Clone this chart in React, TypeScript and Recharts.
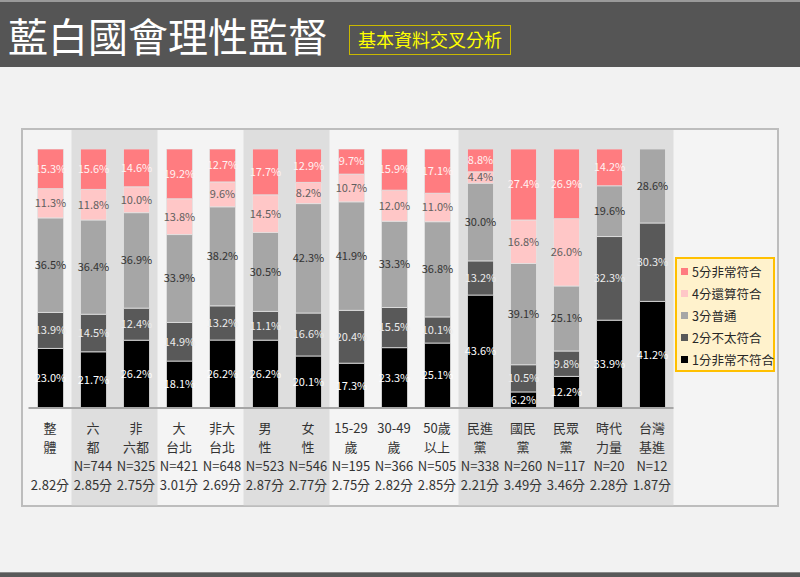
import {
    BarChart,
    Bar,
    XAxis,
    YAxis,
    Legend,
    LabelList,
    ReferenceArea,
} from "recharts";

const categories = [
    "整體", "六都", "非六都", "大台北", "非大台北", "男性", "女性",
    "15-29歲", "30-49歲", "50歲以上", "民進黨", "國民黨", "民眾黨", "時代力量", "台灣基進",
];
const labelTop = ["整", "六", "非", "大", "非大", "男", "女", "15-29", "30-49", "50歲", "民進", "國民", "民眾", "時代", "台灣"];
const labelBottom = ["體", "都", "六都", "台北", "台北", "性", "性", "歲", "歲", "以上", "黨", "黨", "黨", "力量", "基進"];
const sampleSizes = ["", "N=744", "N=325", "N=421", "N=648", "N=523", "N=546", "N=195", "N=366", "N=505", "N=338", "N=260", "N=117", "N=20", "N=12"];
const meanScores = ["2.82分", "2.85分", "2.75分", "3.01分", "2.69分", "2.87分", "2.77分", "2.75分", "2.82分", "2.85分", "2.21分", "3.49分", "3.46分", "2.28分", "1.87分"];

// share of each answer, % (1 = 非常不符合 ... 5 = 非常符合)
const rate1 = [23.0, 21.7, 26.2, 18.1, 26.2, 26.2, 20.1, 17.3, 23.3, 25.1, 43.6, 6.2, 12.2, 33.9, 41.2];
const rate2 = [13.9, 14.5, 12.4, 14.9, 13.2, 11.1, 16.6, 20.4, 15.5, 10.1, 13.2, 10.5, 9.8, 32.3, 30.3];
const rate3 = [36.5, 36.4, 36.9, 33.9, 38.2, 30.5, 42.3, 41.9, 33.3, 36.8, 30.0, 39.1, 25.1, 19.6, 28.6];
const rate4 = [11.3, 11.8, 10.0, 13.8, 9.6, 14.5, 8.2, 10.7, 12.0, 11.0, 4.4, 16.8, 26.0, 0, 0];
const rate5 = [15.3, 15.6, 14.6, 19.2, 12.7, 17.7, 12.9, 9.7, 15.9, 17.1, 8.8, 27.4, 26.9, 14.2, 0];

const data = categories.map((name, i) => ({
    name,
    s1: rate1[i],
    s2: rate2[i],
    s3: rate3[i],
    s4: rate4[i],
    s5: rate5[i],
}));

// shaded column groups
const bands = [
    ["六都", "非六都"],
    ["男性", "女性"],
    ["民進黨", "台灣基進"],
];

const FONT = "'Noto Sans CJK TC', 'Noto Sans', sans-serif";

const series = [
    { key: "s1", name: "1分非常不符合", fill: "#000000", text: "#ffffff" },
    { key: "s2", name: "2分不太符合", fill: "#595959", text: "#ececec" },
    { key: "s3", name: "3分普通", fill: "#a6a6a6", text: "#333333" },
    { key: "s4", name: "4分還算符合", fill: "#ffc7c7", text: "#5f5f5f" },
    { key: "s5", name: "5分非常符合", fill: "#ff7c80", text: "#fff3f3" },
];

const fmt = (v: any) => (v ? Number(v).toFixed(1) + "%" : "");

function CategoryTick(props: any) {
    const { x, y, payload } = props;
    const i = payload.index;
    const rows = [labelTop[i], labelBottom[i], sampleSizes[i], meanScores[i]];
    const offs = [11, 30, 49, 68];
    return (
        <g>
            {rows.map((t, r) => (
                <text
                    key={r}
                    x={x}
                    y={y + offs[r]}
                    textAnchor="middle"
                    dominantBaseline="central"
                    fontSize={13}
                    fontFamily={FONT}
                    fill="#333333"
                >
                    {t}
                </text>
            ))}
        </g>
    );
}

function LegendBox(props: any) {
    const items = [...(props.payload || [])].reverse();
    return (
        <div
            style={{
                width: 100,
                height: 115,
                boxSizing: "border-box",
                border: "2px solid #ffc000",
                background: "#fff2cc",
                paddingTop: 1,
            }}
        >
            {items.map((it: any) => (
                <div
                    key={it.value}
                    style={{
                        height: 22.2,
                        display: "flex",
                        alignItems: "center",
                        fontSize: 12.5,
                        color: "#262626",
                        fontFamily: FONT,
                        whiteSpace: "nowrap",
                    }}
                >
                    <span
                        style={{
                            width: 7,
                            height: 7,
                            flex: "none",
                            background: it.color,
                            margin: "0 4px 0 4px",
                        }}
                    />
                    {it.value}
                </div>
            ))}
        </div>
    );
}

export default function App() {
    return (
        <div
            style={{
                position: "absolute",
                left: 0,
                top: 0,
                width: 800,
                height: 577,
                background: "#f2f2f2",
                overflow: "hidden",
                fontFamily: FONT,
            }}
        >
            <div
                style={{
                    position: "absolute",
                    left: 0,
                    top: 0,
                    width: 800,
                    height: 67,
                    background: "#555555",
                    borderTop: "2px solid #9a9a9a",
                    boxSizing: "border-box",
                }}
            >
                <div
                    style={{
                        position: "absolute",
                        left: 8,
                        top: 7,
                        fontSize: 40,
                        lineHeight: "52px",
                        color: "#ffffff",
                        whiteSpace: "nowrap",
                    }}
                >
                    藍白國會理性監督
                </div>
                <div
                    style={{
                        position: "absolute",
                        left: 349,
                        top: 23,
                        width: 162,
                        height: 30,
                        boxSizing: "border-box",
                        border: "1.5px solid #c9b800",
                        color: "#ffff00",
                        fontSize: 18,
                        lineHeight: "27px",
                        textAlign: "center",
                        whiteSpace: "nowrap",
                    }}
                >
                    基本資料交叉分析
                </div>
            </div>

            <div
                style={{
                    position: "absolute",
                    left: 21,
                    top: 128,
                    width: 758,
                    height: 379,
                    boxSizing: "border-box",
                    border: "2px solid #bdbdbd",
                    background: "#f4f4f4",
                }}
            />

            <div
                style={{
                    position: "absolute",
                    left: 0,
                    top: 572,
                    width: 800,
                    height: 5,
                    background: "#595959",
                    borderTop: "1px solid #8a8a8a",
                }}
            />

            <div style={{ position: "absolute", left: 0, top: 0 }}>
                <BarChart
                    width={800}
                    height={577}
                    data={data}
                    stackOffset="expand"
                    barSize={26}
                    margin={{ top: 149, right: 126.5, bottom: 89, left: 28.5 }}
                >
                    {bands.map(([a, b]) => (
                        <ReferenceArea
                            key={a}
                            x1={a}
                            x2={b}
                            y1={-0.375}
                            y2={1.073}
                            ifOverflow="visible"
                            fill="#dedede"
                            fillOpacity={1}
                            stroke="none"
                        />
                    ))}
                    <XAxis
                        dataKey="name"
                        interval={0}
                        height={80}
                        tickLine={false}
                        axisLine={{ stroke: "#a6a6a6", strokeWidth: 2 }}
                        tick={<CategoryTick />}
                    />
                    <YAxis type="number" domain={[0, 1]} allowDataOverflow hide />
                    <Legend
                        layout="vertical"
                        align="center"
                        verticalAlign="middle"
                        wrapperStyle={{ left: 675, top: 257, width: 100, height: 115 }}
                        content={<LegendBox />}
                    />
                    {series.map((s) => (
                        <Bar
                            key={s.key}
                            dataKey={s.key}
                            name={s.name}
                            stackId="a"
                            fill={s.fill}
                            stroke="#e2e2e2"
                            strokeWidth={0.8}
                            isAnimationActive={false}
                        >
                            <LabelList
                                dataKey={s.key}
                                position="center"
                                formatter={fmt}
                                fill={s.text}
                                fontSize={11}
                                fontFamily={FONT}
                            />
                        </Bar>
                    ))}
                </BarChart>
            </div>
        </div>
    );
}
